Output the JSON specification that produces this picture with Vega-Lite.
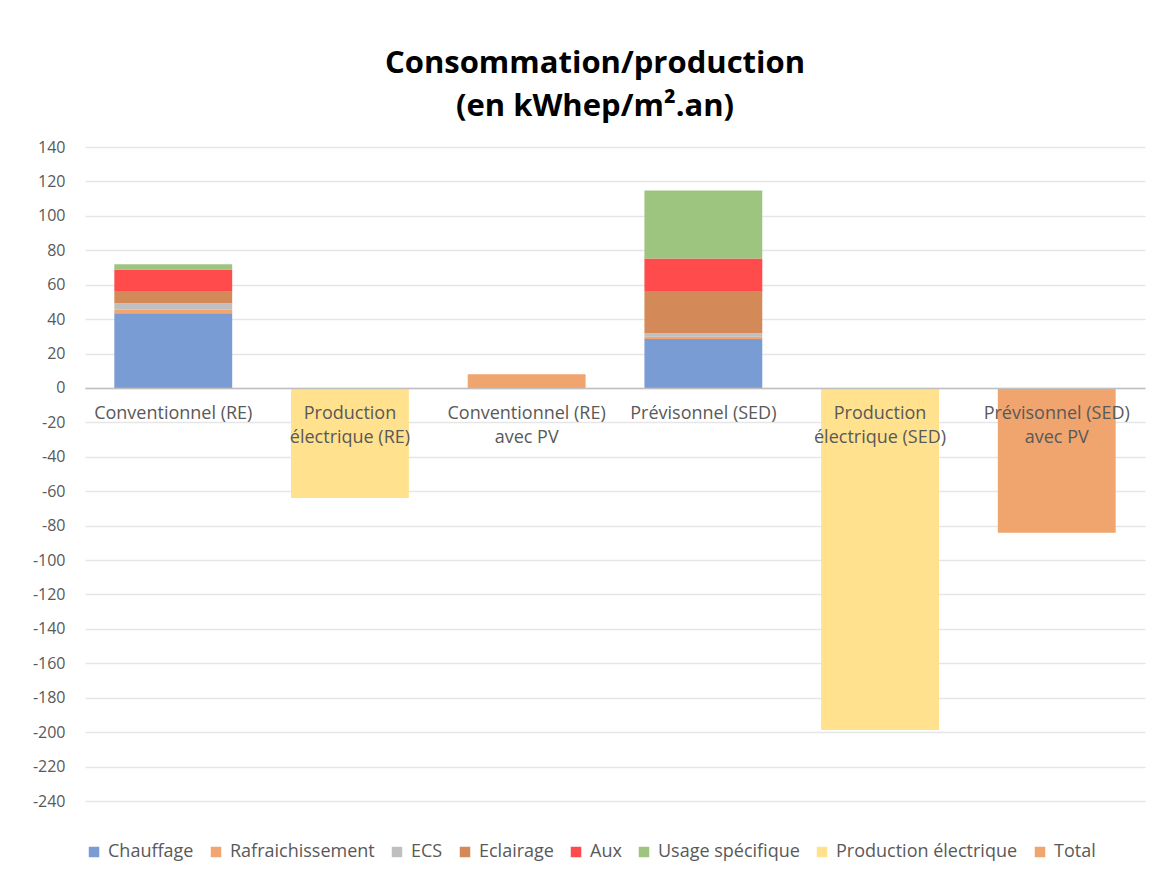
{
  "$schema": "https://vega.github.io/schema/vega-lite/v6.json",
  "autosize": {"type": "none"},
  "width": 1060,
  "height": 654,
  "padding": {"left": 85, "top": 147, "right": 8, "bottom": 79},
  "background": "white",
  "title": {
    "text": ["Consommation/production", "(en kWhep/m².an)"],
    "font": "Open Sans",
    "fontSize": 31,
    "fontWeight": "bold",
    "color": "#000000",
    "anchor": "middle",
    "frame": "group",
    "dx": -20,
    "offset": 16,
    "lineHeight": 43
  },
  "data": {
    "values": [
      {"cat": "Conventionnel (RE)", "serie": "Chauffage", "ord": 1, "v": 43.4},
      {"cat": "Conventionnel (RE)", "serie": "Rafraichissement", "ord": 2, "v": 2.1},
      {"cat": "Conventionnel (RE)", "serie": "ECS", "ord": 3, "v": 3.7},
      {"cat": "Conventionnel (RE)", "serie": "Eclairage", "ord": 4, "v": 7.2},
      {"cat": "Conventionnel (RE)", "serie": "Aux", "ord": 5, "v": 12.4},
      {"cat": "Conventionnel (RE)", "serie": "Usage spécifique", "ord": 6, "v": 3.1},
      {"cat": "Production électrique (RE)", "serie": "Production électrique", "ord": 7, "v": -64.0},
      {"cat": "Conventionnel (RE) avec PV", "serie": "Total", "ord": 8, "v": 7.9},
      {"cat": "Prévisonnel (SED)", "serie": "Chauffage", "ord": 1, "v": 28.5},
      {"cat": "Prévisonnel (SED)", "serie": "Rafraichissement", "ord": 2, "v": 1.2},
      {"cat": "Prévisonnel (SED)", "serie": "ECS", "ord": 3, "v": 2.1},
      {"cat": "Prévisonnel (SED)", "serie": "Eclairage", "ord": 4, "v": 24.6},
      {"cat": "Prévisonnel (SED)", "serie": "Aux", "ord": 5, "v": 18.8},
      {"cat": "Prévisonnel (SED)", "serie": "Usage spécifique", "ord": 6, "v": 39.5},
      {"cat": "Production électrique (SED)", "serie": "Production électrique", "ord": 7, "v": -198.8},
      {"cat": "Prévisonnel (SED) avec PV", "serie": "Total", "ord": 8, "v": -84.1}
    ]
  },
  "mark": {"type": "bar"},
  "encoding": {
    "x": {
      "field": "cat",
      "type": "nominal",
      "sort": ["Conventionnel (RE)", "Production électrique (RE)", "Conventionnel (RE) avec PV", "Prévisonnel (SED)", "Production électrique (SED)", "Prévisonnel (SED) avec PV"],
      "scale": {"paddingInner": 0.333, "paddingOuter": 0.166},
      "axis": {
        "title": null,
        "offset": -413,
        "zindex": 1,
        "labelAngle": 0,
        "ticks": false,
        "domainColor": "#BFBFBF",
        "domainWidth": 1.5,
        "labelFont": "Open Sans",
        "labelFontSize": 18,
        "labelColor": "#595959",
        "labelPadding": 16,
        "labelLineHeight": 24,
        "labelLimit": 300,
        "labelExpr": "datum.label == 'Production électrique (RE)' ? ['Production', 'électrique (RE)'] : datum.label == 'Conventionnel (RE) avec PV' ? ['Conventionnel (RE)', 'avec PV'] : datum.label == 'Production électrique (SED)' ? ['Production', 'électrique (SED)'] : datum.label == 'Prévisonnel (SED) avec PV' ? ['Prévisonnel (SED)', 'avec PV'] : datum.label"
      }
    },
    "y": {
      "field": "v",
      "type": "quantitative",
      "stack": "zero",
      "scale": {"domain": [-240, 140], "nice": false},
      "axis": {
        "title": null,
        "values": [-240, -220, -200, -180, -160, -140, -120, -100, -80, -60, -40, -20, 0, 20, 40, 60, 80, 100, 120, 140],
        "labelExpr": "replace(datum.label, '−', '-')",
        "domain": false,
        "ticks": false,
        "gridColor": "#E6E6E6",
        "gridWidth": 1.3,
        "labelFont": "Open Sans",
        "labelFontSize": 16,
        "labelColor": "#595959",
        "labelPadding": 20
      }
    },
    "color": {
      "field": "serie",
      "type": "nominal",
      "scale": {
        "domain": ["Chauffage", "Rafraichissement", "ECS", "Eclairage", "Aux", "Usage spécifique", "Production électrique", "Total"],
        "range": ["#7A9CD4", "#F2A570", "#BFBFBF", "#D48A58", "#FF4B4B", "#9DC57F", "#FFE18E", "#F0A46E"]
      },
      "legend": {
        "title": null,
        "orient": "bottom",
        "direction": "horizontal",
        "offset": 42,
        "symbolType": "square",
        "symbolSize": 110,
        "symbolStrokeWidth": 0,
        "labelFont": "Open Sans",
        "labelFontSize": 18,
        "labelColor": "#595959",
        "labelLimit": 400,
        "columnPadding": 13,
        "labelOffset": 5
      }
    },
    "order": {"field": "ord", "type": "quantitative"}
  },
  "config": {"view": {"stroke": null}}
}
